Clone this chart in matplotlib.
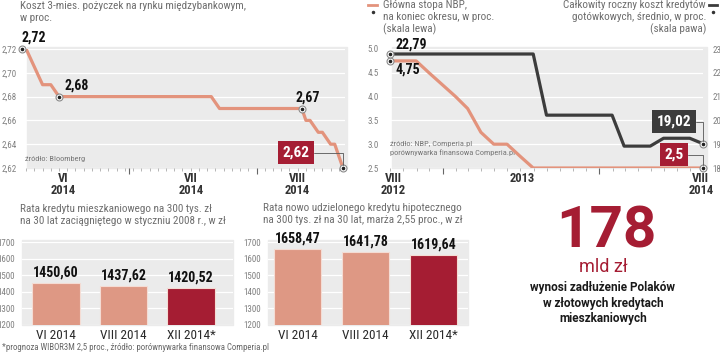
import matplotlib
matplotlib.use('Agg')
import matplotlib.pyplot as plt
import matplotlib.dates as mdates
from matplotlib import font_manager
from matplotlib.patches import Rectangle
from matplotlib.lines import Line2D
from matplotlib.ticker import NullFormatter
import numpy as np
import pandas as pd

# --- data: WIBOR 3M, daily (only the days where the curve turns)
wibor_dates = ['2014-06-05', '2014-06-06', '2014-06-10', '2014-06-12', '2014-06-14',
               '2014-07-21', '2014-07-23', '2014-08-12', '2014-08-13', '2014-08-14',
               '2014-08-16', '2014-08-17', '2014-08-19', '2014-08-20', '2014-08-22']
wibor_vals = [2.72, 2.72, 2.69, 2.69, 2.68, 2.68, 2.67, 2.67, 2.66, 2.66,
              2.65, 2.65, 2.64, 2.64, 2.62]
wibor_marked = [0, 4, 7, 14]
wibor_yticks = [2.62, 2.64, 2.66, 2.68, 2.70, 2.72]
wibor_xlabels = ['VI\n2014', 'VII\n2014', 'VIII\n2014']
wibor_xlabel_dates = ['2014-06-15', '2014-07-16', '2014-08-11']

# --- data: NBP rate and average cost of cash loans, monthly
months = ['2012-08', '2012-09', '2012-10', '2012-11', '2012-12', '2013-01', '2013-02',
          '2013-03', '2013-04', '2013-05', '2013-06', '2013-07', '2013-08', '2013-09',
          '2013-10', '2013-11', '2013-12', '2014-01', '2014-02', '2014-03', '2014-04',
          '2014-05', '2014-06', '2014-07', '2014-08']
nbp_rate = [4.75, 4.75, 4.75, 4.50, 4.25, 4.00, 3.75, 3.25, 3.00, 3.00, 2.75, 2.50,
            2.50, 2.50, 2.50, 2.50, 2.50, 2.50, 2.50, 2.50, 2.50, 2.50, 2.50, 2.50, 2.50]
loan_cost = [22.79, 22.79, 22.79, 22.79, 22.79, 22.79, 22.79, 22.79, 22.79, 22.79, 22.79, 22.79,
             20.22, 20.22, 20.22, 20.22, 20.22, 20.22, 18.92, 18.92, 18.92,
             19.25, 19.25, 19.25, 19.02]
nbp_yticks = [2.5, 3.0, 3.5, 4.0, 4.5, 5.0]
cost_yticks = [18, 19, 20, 21, 22, 23]
nbp_xlabels = ['VIII\n2012', '2013', 'VIII\n2014']
nbp_xlabel_dates = ['2012-09-07', '2013-07-06', '2014-08-26']

# --- data: monthly instalments
bar_labels = ['VI 2014', 'VIII 2014', 'XII 2014*']
old_loan = [1450.60, 1437.62, 1420.52]
new_loan = [1658.47, 1641.78, 1619.64]
bar_yticks = [1200, 1300, 1400, 1500, 1600, 1700]

SALMON = '#e3937c'
BAR = '#de9884'
RED = '#a51d33'
DARK = '#3c3c3c'
BG = '#ebebeb'
GREY_TXT = '#6e6e6e'

names = {f.name for f in font_manager.fontManager.ttflist}
FONT = 'DejaVu Sans'
for cand in ['Roboto Condensed', 'Liberation Sans Narrow', 'Roboto']:
    if cand in names:
        FONT = cand
        break
WIDE = 'Roboto' if 'Roboto' in names else 'DejaVu Sans'
plt.rcParams['font.family'] = [FONT, 'DejaVu Sans']

W, H = 720, 352
fig = plt.figure(figsize=(W / 100, H / 100), dpi=100)


def add_ax(l, t, r, b):
    return fig.add_axes([l / W, 1 - b / H, (r - l) / W, (b - t) / H])


def ftext(x, y, s, **kw):
    return fig.text(x / W, 1 - y / H, s, **kw)


def pl(v, fmt='{:.2f}'):
    return fmt.format(v).replace('.', ',')


def clean(ax):
    for sp in ax.spines.values():
        sp.set_visible(False)
    ax.set_facecolor('none')


def dot(ax, x, y):
    ax.plot([x], [y], 'o', ms=5, mfc='white', mec='#8a8a8a', mew=0.8, zorder=6, clip_on=False)
    ax.plot([x], [y], 'o', ms=1.6, color='#222', zorder=7, clip_on=False)


# ---------------- chart 1: WIBOR ----------------
ftext(20, 1, 'Koszt 3-mies. pożyczek na rynku międzybankowym,\nw proc.',
      fontsize=8, color=GREY_TXT, va='top', linespacing=1.25)
ax1 = add_ax(22, 49, 345, 168)
clean(ax1)
ax1.add_patch(Rectangle((0.015, 0), 0.99, 1.015, transform=ax1.transAxes,
                        color=BG, zorder=0, clip_on=False))
d1 = pd.to_datetime(wibor_dates)
ax1.plot(d1, wibor_vals, color=SALMON, lw=2.3, zorder=3, solid_joinstyle='round')
for i in wibor_marked:
    dot(ax1, d1[i], wibor_vals[i])
ax1.set_xlim(pd.Timestamp('2014-06-05'), pd.Timestamp('2014-08-22 12:00'))
ax1.set_ylim(2.62, 2.72)
ax1.set_yticks(wibor_yticks, [pl(t) for t in wibor_yticks])
ax1.yaxis.grid(True, color='white', lw=0.9)
ax1.set_axisbelow(True)
ax1.tick_params(axis='y', length=0, pad=4, labelsize=6.5, labelcolor='#808080')
ax1.xaxis.set_major_locator(mdates.MonthLocator())
ax1.xaxis.set_minor_locator(mdates.DayLocator(interval=2))
ax1.xaxis.set_major_formatter(NullFormatter())
ax1.tick_params(axis='x', which='major', length=4, width=0.8, color='#666')
ax1.tick_params(axis='x', which='minor', length=2, width=0.6, color='#aaa')
for d, lab in zip(wibor_xlabel_dates, wibor_xlabels):
    ax1.text(pd.Timestamp(d), -0.035, lab, transform=ax1.get_xaxis_transform(),
             ha='center', va='top', fontsize=9, fontweight='bold', color='#333', linespacing=0.9)
ax1.annotate(pl(wibor_vals[0]), (d1[0], wibor_vals[0]), xytext=(0, 3), textcoords='offset points',
             ha='left', va='bottom', fontsize=10, fontweight='bold', color='#111')
ax1.annotate(pl(wibor_vals[4]), (d1[4], wibor_vals[4]), xytext=(4, 3), textcoords='offset points',
             ha='left', va='bottom', fontsize=10, fontweight='bold', color='#111')
ax1.annotate(pl(wibor_vals[7]), (d1[7], wibor_vals[7]), xytext=(4, 3), textcoords='offset points',
             ha='center', va='bottom', fontsize=10, fontweight='bold', color='#111')
ax1.annotate(pl(wibor_vals[-1]), (d1[-1], wibor_vals[-1]), xytext=(-34, 11), textcoords='offset points',
             ha='center', va='center', fontsize=11, fontweight='bold', color='white',
             bbox=dict(boxstyle='square,pad=0.3', fc=RED, ec='none'),
             arrowprops=dict(arrowstyle='-', color='#555', lw=0.6, shrinkA=0, shrinkB=2,
                             connectionstyle='angle,angleA=0,angleB=90,rad=0'), zorder=8)
ax1.text(0.01, 0.06, 'źródło: Bloomberg', transform=ax1.transAxes, fontsize=6, color='#777')

# ---------------- chart 2: NBP / cost ----------------
fig.add_artist(Line2D([368 / W, 377 / W], [1 - 5 / H, 1 - 5 / H], color=SALMON, lw=2))
fig.add_artist(Line2D([373 / W], [1 - 12 / H], marker='o', ms=1.5, color='#333', lw=0))
ftext(383, 0, 'Główna stopa NBP,\nna koniec okresu, w proc.\n(skala lewa)',
      fontsize=8, color=GREY_TXT, va='top', linespacing=1.2)
fig.add_artist(Line2D([709 / W, 717 / W], [1 - 5 / H, 1 - 5 / H], color=DARK, lw=2))
fig.add_artist(Line2D([713 / W], [1 - 12 / H], marker='o', ms=1.5, color='#333', lw=0))
ftext(706, 0, 'Całkowity roczny koszt kredytów\ngotówkowych, średnio, w proc.\n(skala pawa)',
      fontsize=8, color=GREY_TXT, va='top', ha='right', multialignment='right', linespacing=1.2)

ax2 = add_ax(390, 49, 703, 168)
clean(ax2)
ax2.add_patch(Rectangle((0.006, 0), 1.007, 1.017, transform=ax2.transAxes,
                        color=BG, zorder=0, clip_on=False))
m2 = pd.to_datetime(months) + pd.offsets.MonthEnd(0)
ax2.plot(m2, nbp_rate, color=SALMON, lw=2.3, zorder=3, solid_joinstyle='round')
ax2.set_xlim(m2[0], m2[-1])
ax2.set_ylim(2.5, 5.0)
ax2.set_yticks(nbp_yticks, ['{:.1f}'.format(t) for t in nbp_yticks])
ax2.yaxis.grid(True, color='white', lw=0.9)
ax2.set_axisbelow(True)
ax2.tick_params(axis='y', length=0, pad=8, labelsize=6.5, labelcolor='#808080')
ax2.xaxis.set_major_locator(mdates.YearLocator())
ax2.xaxis.set_minor_locator(mdates.MonthLocator())
ax2.xaxis.set_major_formatter(NullFormatter())
ax2.tick_params(axis='x', which='major', length=4, width=0.8, color='#666')
ax2.tick_params(axis='x', which='minor', length=2, width=0.6, color='#aaa')
for d, lab in zip(nbp_xlabel_dates, nbp_xlabels):
    ax2.text(pd.Timestamp(d), -0.035, lab, transform=ax2.get_xaxis_transform(),
             ha='center', va='top', fontsize=9, fontweight='bold', color='#333', linespacing=0.9)

ax2r = ax2.twinx()
clean(ax2r)
ax2r.plot(m2, loan_cost, color=DARK, lw=2.3, zorder=3, solid_joinstyle='round')
ax2r.set_ylim(18, 23)
ax2r.set_yticks(cost_yticks, [str(t) for t in cost_yticks])
ax2r.tick_params(axis='y', length=0, pad=7, labelsize=6.5, labelcolor='#808080')
ax2r.set_xlim(m2[0], m2[-1])

dot(ax2, m2[0], nbp_rate[0])
dot(ax2r, m2[0], loan_cost[0])
dot(ax2, m2[-1], nbp_rate[-1])
dot(ax2r, m2[-1], loan_cost[-1])
ax2r.annotate(pl(loan_cost[0]), (m2[0], loan_cost[0]), xytext=(4, 2), textcoords='offset points',
              ha='left', va='bottom', fontsize=10, fontweight='bold', color='#111')
ax2.annotate(pl(nbp_rate[0]), (m2[0], nbp_rate[0]), xytext=(4, -1), textcoords='offset points',
             ha='left', va='top', fontsize=10, fontweight='bold', color='#111')
ax2r.annotate(pl(loan_cost[-1]), (m2[-1], loan_cost[-1]), xytext=(-21, 16), textcoords='offset points',
              ha='center', va='center', fontsize=11, fontweight='bold', color='white',
              bbox=dict(boxstyle='square,pad=0.3', fc=DARK, ec='none'),
              arrowprops=dict(arrowstyle='-', color='#555', lw=0.6, shrinkA=0, shrinkB=2,
                              connectionstyle='angle,angleA=0,angleB=90,rad=0'), zorder=8)
ax2.annotate(pl(nbp_rate[-1], '{:.1f}'), (m2[-1], nbp_rate[-1]), xytext=(-21, 9.5), textcoords='offset points',
             ha='center', va='center', fontsize=11, fontweight='bold', color='white',
             bbox=dict(boxstyle='square,pad=0.3', fc=RED, ec='none'),
             arrowprops=dict(arrowstyle='-', color='#555', lw=0.6, shrinkA=0, shrinkB=2,
                             connectionstyle='angle,angleA=0,angleB=90,rad=0'), zorder=8)
ax2.text(0.0, 0.23, 'źródło: NBP, Comperia.pl\nporównywarka finansowa Comperia.pl',
         transform=ax2.transAxes, fontsize=6, color='#777', va='top', linespacing=1.5, zorder=2)


# ---------------- bar charts ----------------
def bars(ax, vals, xlim, width):
    clean(ax)
    ax.add_patch(Rectangle((0, 0), 1, 1.02, transform=ax.transAxes, color=BG, zorder=0, clip_on=False))
    x = np.arange(len(vals))
    ax.bar(x, vals, width=width, color=[BAR, BAR, RED], edgecolor='#f4dcd4', lw=0.8, zorder=3)
    for xi, v in zip(x, vals):
        ax.annotate(pl(v), (xi, v), xytext=(0, 2.5), textcoords='offset points',
                    ha='center', va='bottom', fontsize=10, fontweight='bold', color='#111', zorder=5)
    ax.set_xlim(*xlim)
    ax.set_ylim(1200, 1700)
    ax.set_yticks(bar_yticks, [str(t) for t in bar_yticks])
    ax.yaxis.grid(True, color='white', lw=0.9)
    ax.set_axisbelow(True)
    ax.tick_params(axis='y', length=0, pad=5, labelsize=6.5, labelcolor='#808080')
    ax.set_xticks(x, bar_labels)
    ax.tick_params(axis='x', length=0, pad=3, labelsize=9.5, labelcolor='#2a2a2a')


ftext(20, 204, 'Rata kredytu mieszkaniowego na 300 tys. zł\nna 30 lat zaciągniętego w styczniu 2008 r., w zł',
      fontsize=8, color=GREY_TXT, va='top', linespacing=1.25)
ax3 = add_ax(22, 242, 233, 325)
bars(ax3, old_loan, (-0.504, 2.622), 0.71)

ftext(263, 203, 'Rata nowo udzielonego kredytu hipotecznego\nna 300 tys. zł na 30 lat, marża 2,55 proc., w zł',
      fontsize=8, color=GREY_TXT, va='top', linespacing=1.25)
ax4 = add_ax(268, 242, 468, 325)
bars(ax4, new_loan, (-0.434, 2.507), 0.69)

ftext(2, 347, '*prognoza WIBOR3M 2,5 proc., źródło: porównywarka finansowa Comperia.pl',
      fontsize=6.3, color='#666', va='center')

# ---------------- big number ----------------
ftext(606, 247, '178', fontsize=42, fontweight='bold', color=RED, ha='center', va='baseline',
      family=[WIDE, 'DejaVu Sans'])
ftext(603, 272, 'mld zł', fontsize=13, color=RED, ha='center', va='baseline',
      family=[WIDE, 'DejaVu Sans'])
ftext(603, 303, 'wynosi zadłużenie Polaków\nw złotowych kredytach\nmieszkaniowych',
      fontsize=8.5, fontweight='bold', color='#1a1a1a', ha='center', va='center', linespacing=1.25,
      family=[WIDE, 'DejaVu Sans'])

fig.savefig('out.png', dpi=100)
